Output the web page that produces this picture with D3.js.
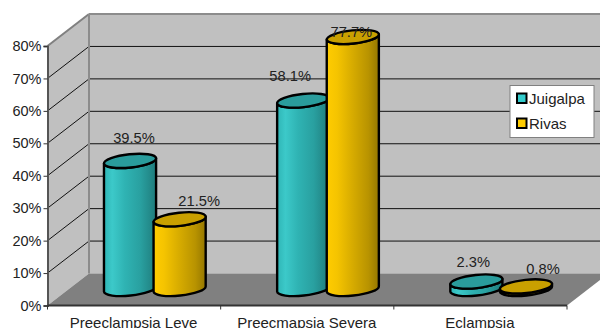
<!DOCTYPE html>
<html>
<head>
<meta charset="utf-8">
<script src="https://cdn.jsdelivr.net/npm/d3@7"></script>
<style>
html, body { margin: 0; padding: 0; background: #fff; overflow: hidden; }
svg { display: block; }
text { font-family: "Liberation Sans", Arial, sans-serif; fill: #222; }
</style>
</head>
<body>
<svg id="chart" width="600" height="328"></svg>
<script>
// Chart data
const categories = ["Preeclampsia Leve", "Preecmapsia Severa", "Eclampsia"];
const seriesNames = ["Juigalpa", "Rivas"];
const juigalpa = [39.5, 58.1, 2.3];
const rivas = [21.5, 77.7, 0.8];
const percentTicks = [0, 10, 20, 30, 40, 50, 60, 70, 80];

// Pseudo-3D frame
const W = 600, H = 328;
const plot = { left: 47.5, right: 567, bottom: 305.5, top: 46 };
const depth = { dx: 41.5, dy: -32 };
const cyl = { rx: 26.2, ry: 6.6, tilt: -6, spread: 24.8 };
const lift = 16.5; // cylinders stand half way into the floor

const svg = d3.select("#chart");
const x = d3.scaleBand().domain(categories).range([plot.left, plot.right]);
const y = d3.scaleLinear().domain([0, 80]).range([plot.bottom, plot.top]);

const defs = svg.append("defs");
function shade(id, stops) {
  const g = defs.append("linearGradient").attr("id", id).attr("x1", 0).attr("x2", 1).attr("y1", 0).attr("y2", 0);
  stops.forEach(([o, c]) => g.append("stop").attr("offset", o).attr("stop-color", c));
}
shade("tealBody", [[0, "#2fb5b5"], [0.16, "#3cc9c9"], [0.4, "#2fb3b3"], [0.7, "#29a0a0"], [1, "#1f7c7c"]]);
shade("goldBody", [[0, "#ffcc00"], [0.2, "#f5c400"], [0.5, "#d6ab00"], [0.8, "#b89300"], [1, "#957700"]]);
const looks = [
  { body: "url(#tealBody)", cap: "#2a9c9c", swatch: "#33cccc" },
  { body: "url(#goldBody)", cap: "#c9a000", swatch: "#ffcc00" }
];

// Walls and floor
const g = svg.append("g");
const backX = plot.left + depth.dx;
const backBottom = plot.bottom + depth.dy;
const backTop = plot.top + depth.dy;
const poly = pts => pts.map(p => p.join(",")).join(" ");

g.append("rect").attr("x", backX).attr("y", backTop)
  .attr("width", W - backX + 10).attr("height", backBottom - backTop).attr("fill", "#c0c0c0");
g.append("polygon").attr("fill", "#c0c0c0")
  .attr("points", poly([[plot.left, plot.top], [backX, backTop], [backX, backBottom], [plot.left, plot.bottom]]));
g.append("polygon").attr("fill", "#808080")
  .attr("points", poly([[plot.left, plot.bottom], [plot.right, plot.bottom],
    [plot.right + depth.dx, backBottom], [backX, backBottom]]));

// Gridlines on the back and side walls
percentTicks.slice(1, -1).forEach(t => {
  g.append("line").attr("x1", backX).attr("x2", W + 10)
    .attr("y1", y(t) + depth.dy).attr("y2", y(t) + depth.dy)
    .attr("stroke", "#111").attr("stroke-width", 1);
});
percentTicks.slice(1).forEach(t => {
  g.append("line").attr("x1", plot.left).attr("y1", y(t))
    .attr("x2", backX).attr("y2", y(t) + depth.dy)
    .attr("stroke", t === 80 ? "#808080" : "#111").attr("stroke-width", t === 80 ? 2 : 1);
});

// Wall edges
g.append("line").attr("x1", backX).attr("x2", W + 10).attr("y1", backTop).attr("y2", backTop)
  .attr("stroke", "#8c8c8c").attr("stroke-width", 2);
g.append("line").attr("x1", backX).attr("x2", backX).attr("y1", backTop).attr("y2", backBottom)
  .attr("stroke", "#8c8c8c").attr("stroke-width", 2);

// Axes
const yAxis = d3.axisLeft(y).tickValues(percentTicks).tickFormat(d => d + "%").tickSize(4).tickPadding(2);
const yG = svg.append("g").attr("transform", `translate(${plot.left},0)`).call(yAxis);
yG.select(".domain").attr("stroke", "#555").attr("stroke-width", 2);
yG.selectAll("line").attr("stroke", "#333");
yG.selectAll("text").attr("font-size", 14.5).attr("font-family", null).style("fill", "#222");

const edges = categories.map(c => x(c)).concat([plot.right]);
const xG = svg.append("g");
xG.append("line").attr("x1", plot.left).attr("x2", plot.right)
  .attr("y1", plot.bottom).attr("y2", plot.bottom).attr("stroke", "#333").attr("stroke-width", 2);
xG.selectAll(".tick-mark").data(edges).join("line")
  .attr("x1", d => d).attr("x2", d => d)
  .attr("y1", plot.bottom).attr("y2", plot.bottom + 4).attr("stroke", "#333");
xG.selectAll(".cat").data(categories).join("text")
  .attr("x", d => x(d) + x.bandwidth() / 2 - 0.5).attr("y", 327.5)
  .attr("text-anchor", "middle").attr("font-size", 15).text(d => d);

// Cylinders
const rad = cyl.tilt * Math.PI / 180;
const ex = cyl.rx * Math.cos(rad), ey = cyl.rx * Math.sin(rad);
function bodyPath(cx, top, base) {
  const a = `A${cyl.rx},${cyl.ry} ${cyl.tilt} 0 0`;
  const b = `A${cyl.rx},${cyl.ry} ${cyl.tilt} 0 1`;
  return `M${cx - ex},${top - ey}L${cx - ex},${base - ey}${a} ${cx + ex},${base + ey}` +
    `L${cx + ex},${top + ey}${b} ${cx - ex},${top - ey}Z`;
}
const groupCenter = c => x(c) + x.bandwidth() / 2 + depth.dx / 2;
const marks = [];
categories.forEach((c, i) => {
  [juigalpa[i], rivas[i]].forEach((v, s) => {
    marks.push({ c, v, s, cx: groupCenter(c) + (s === 0 ? -cyl.spread : cyl.spread) });
  });
});
const bars = svg.append("g").selectAll("g").data(marks).join("g");
bars.append("path")
  .attr("d", d => bodyPath(d.cx, y(d.v) - lift, y(0) - lift))
  .attr("fill", d => looks[d.s].body)
  .attr("stroke", "#000").attr("stroke-width", 2.4).attr("stroke-linejoin", "round");
bars.append("ellipse")
  .attr("transform", d => `translate(${d.cx},${y(d.v) - lift}) rotate(${cyl.tilt})`)
  .attr("rx", cyl.rx).attr("ry", cyl.ry)
  .attr("fill", d => looks[d.s].cap)
  .attr("stroke", "#000").attr("stroke-width", 2.4);

// Value labels, each nudged clear of its cylinder
const labelNudge = [[4, -18], [19.5, -13], [-13, -20], [-1.5, 0], [-3, -15], [17, -12]];
svg.append("g").selectAll("text").data(marks).join("text")
  .attr("x", (d, i) => d.cx + labelNudge[i][0])
  .attr("y", (d, i) => y(d.v) - lift + labelNudge[i][1])
  .attr("text-anchor", "middle").attr("font-size", 14.7)
  .text(d => d.v.toFixed(1) + "%");

// Legend
const legend = svg.append("g").attr("transform", "translate(510,85.5)");
legend.append("rect").attr("width", 84).attr("height", 52)
  .attr("fill", "#fff").attr("stroke", "#808080").attr("stroke-width", 1);
const rows = legend.selectAll("g").data(seriesNames).join("g")
  .attr("transform", (d, i) => `translate(0,${8 + i * 25})`);
rows.append("rect").attr("x", 7).attr("y", 0).attr("width", 9.5).attr("height", 9.5)
  .attr("fill", (d, i) => looks[i].swatch).attr("stroke", "#000").attr("stroke-width", 2);
rows.append("text").attr("x", 19).attr("y", 10.5).attr("font-size", 15).text(d => d);
</script>
</body>
</html>
